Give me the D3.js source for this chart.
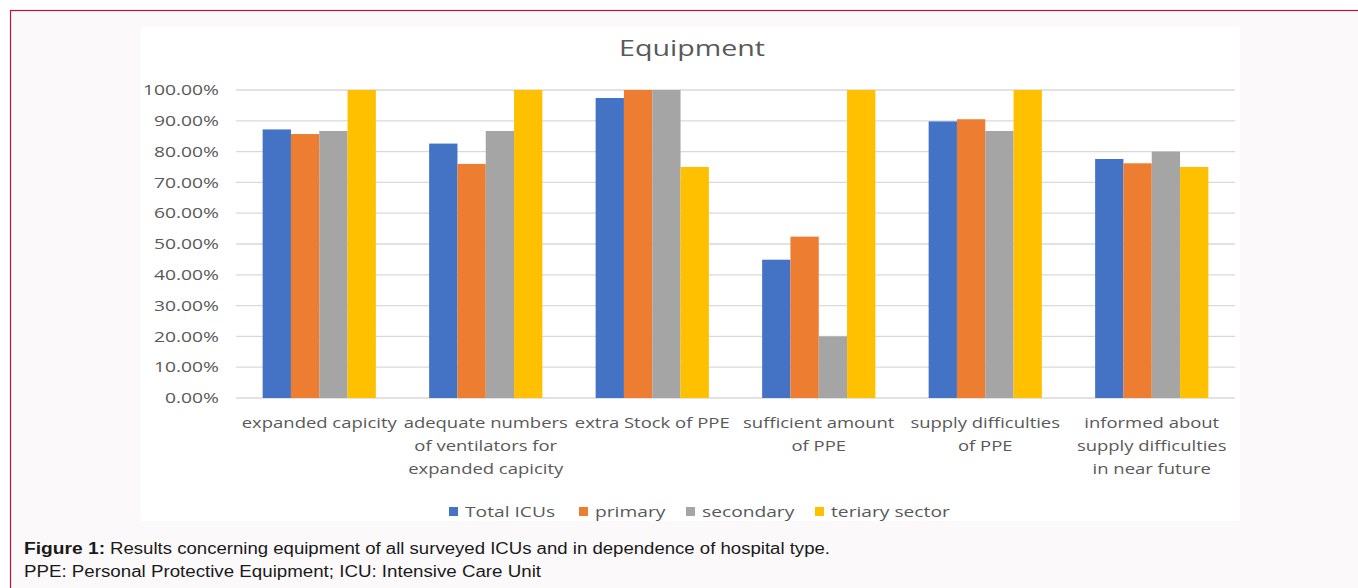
<!DOCTYPE html>
<html><head><meta charset="utf-8">
<script src="https://cdn.jsdelivr.net/npm/d3@7"></script>
<style>
html,body{margin:0;padding:0;background:#fff;}
svg{display:block;}
</style></head>
<body>
<svg id="c" width="1358" height="588"></svg>
<script>
const categories = [
  ["expanded capicity"],
  ["adequate numbers","of ventilators for","expanded capicity"],
  ["extra Stock of PPE"],
  ["sufficient amount","of PPE"],
  ["supply difficulties","of PPE"],
  ["informed about","supply difficulties","in near future"]
];
const seriesNames = ["Total ICUs","primary","secondary","teriary sector"];
const totalICUs = [0.872, 0.826, 0.974, 0.449, 0.898, 0.776];
const primary   = [0.857, 0.760, 1.000, 0.524, 0.905, 0.762];
const secondary = [0.867, 0.867, 1.000, 0.200, 0.867, 0.800];
const teriary   = [1.000, 1.000, 0.750, 1.000, 1.000, 0.750];
const yTicks = [0,0.1,0.2,0.3,0.4,0.5,0.6,0.7,0.8,0.9,1.0];
const colors = ["#4472c4","#ed7d31","#a5a5a5","#ffc000"];
const values = [totalICUs, primary, secondary, teriary];

const svg = d3.select("#c");
// horizontal stretch helper: the reference text is widened
function stretch(sel, k){
  sel.each(function(){
    const w = this.getComputedTextLength();
    d3.select(this).attr("textLength", w*k).attr("lengthAdjust","spacingAndGlyphs");
  });
}

// outer figure box
svg.append("rect").attr("x",10.5).attr("y",10.5).attr("width",1360).attr("height",600)
  .attr("fill","#fbf9fa").attr("stroke","#b5173f").attr("stroke-width",1.2);
// chart area
svg.append("rect").attr("x",141).attr("y",27).attr("width",1099).attr("height",494).attr("fill","#ffffff");

const fontChart = "'Open Sans', sans-serif";
const x0 = d3.scaleBand().domain(d3.range(categories.length)).range([236,1235]).paddingInner(0.32).paddingOuter(0.16);
const x1 = d3.scaleBand().domain(d3.range(seriesNames.length)).range([0,x0.bandwidth()]);
const y = d3.scaleLinear().domain([0,1]).range([398,90]);

// gridlines
svg.append("g").selectAll("line").data(yTicks).join("line")
  .attr("x1",236).attr("x2",1235).attr("y1",d=>y(d)).attr("y2",d=>y(d))
  .attr("stroke","#d9d9d9").attr("stroke-width",1.3);

// y axis labels
const yAxis = d3.axisLeft(y).tickValues(yTicks).tickFormat(d3.format(".2%")).tickSize(0).tickPadding(17);
const ga = svg.append("g").attr("transform","translate(236,0)").call(yAxis);
ga.select(".domain").remove();
const tl = ga.selectAll("text").attr("font-family",fontChart).attr("font-size",14.5).attr("fill","#595959");
{
  const w100 = tl.filter(d=>d===1).node().getComputedTextLength();
  stretch(tl, 76/w100);
}

// bars
const groups = svg.append("g").selectAll("g").data(categories).join("g")
  .attr("transform",(d,i)=>`translate(${x0(i)},0)`);
groups.selectAll("rect").data((d,i)=>values.map((s,j)=>({j,v:s[i]}))).join("rect")
  .attr("x",d=>x1(d.j)).attr("width",x1.bandwidth())
  .attr("y",d=>y(d.v)).attr("height",d=>y(0)-y(d.v))
  .attr("fill",d=>colors[d.j]);

// category labels (one text per line so each can be stretched)
const cg = svg.append("g").selectAll("g").data(categories).join("g");
cg.each(function(lines,i){
  const cx = x0(i)+x0.bandwidth()/2;
  d3.select(this).selectAll("text").data(lines).join("text")
    .attr("x",cx).attr("y",(d,k)=>428+k*23)
    .attr("text-anchor","middle").attr("font-family",fontChart).attr("font-size",15).attr("fill","#595959")
    .text(d=>d);
});
stretch(cg.selectAll("text"), 1.23);

// title
const title = svg.append("text").attr("x",692).attr("y",56).attr("text-anchor","middle")
  .attr("font-family",fontChart).attr("font-size",22.5).attr("fill","#595959").text("Equipment");
stretch(title, 146/title.node().getComputedTextLength());

// legend
const legX = [449,579,686,815];
const lg = svg.append("g").selectAll("g").data(seriesNames).join("g")
  .attr("transform",(d,i)=>`translate(${legX[i]},506)`);
lg.append("rect").attr("width",9).attr("height",9).attr("y",1).attr("fill",(d,i)=>colors[i]);
const lt = lg.append("text").attr("x",16).attr("y",10.5).attr("font-family",fontChart).attr("font-size",15)
  .attr("fill","#595959").text(d=>d);
stretch(lt, 1.28);

// caption
const capFont = "'Liberation Sans', Arial, sans-serif";
const c1 = svg.append("text").attr("x",24).attr("y",554).attr("font-family",capFont)
  .attr("font-size",16).attr("font-weight","bold").attr("fill","#1a1a1a").text("Figure 1:");
stretch(c1, 1.2);
const c1w = +c1.attr("textLength");
const c2 = svg.append("text").attr("x",24+c1w+5).attr("y",554).attr("font-family",capFont)
  .attr("font-size",16).attr("fill","#1a1a1a")
  .text("Results concerning equipment of all surveyed ICUs and in dependence of hospital type.");
stretch(c2, (830-(24+c1w+5))/c2.node().getComputedTextLength());
const c3 = svg.append("text").attr("x",24).attr("y",577).attr("font-family",capFont)
  .attr("font-size",16).attr("fill","#1a1a1a").text("PPE: Personal Protective Equipment; ICU: Intensive Care Unit");
stretch(c3, (541-24)/c3.node().getComputedTextLength());
</script>
</body></html>
